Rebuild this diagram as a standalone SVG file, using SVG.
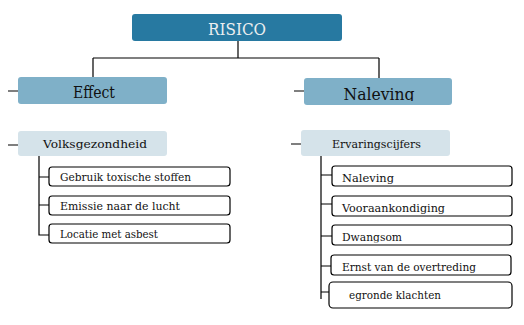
<svg xmlns="http://www.w3.org/2000/svg" width="524" height="325" viewBox="0 0 524 325">
<style>
.t{font-family:"DejaVu Serif","Liberation Serif",serif;fill:#111}
.leaf{fill:#fff;stroke:#000;stroke-width:1.2}
.l1{fill:#7fb0c8}
.l2{fill:#d5e3ea}
.c{fill:none;stroke:#000;stroke-width:1.2}
</style>
<defs>
<clipPath id="cNal"><rect x="304" y="78" width="148" height="23"/></clipPath>
<clipPath id="cN1"><rect x="332" y="166" width="180" height="18"/></clipPath>
<clipPath id="cN2"><rect x="332" y="196" width="180" height="18.5"/></clipPath>
<clipPath id="cN3"><rect x="332" y="225" width="180" height="17.5"/></clipPath>
</defs>
<rect width="524" height="325" fill="#fff"/>
<g id="connectors">
<path class="c" d="M238 41V58M93 58H379M93 58V77M379 58V78"/>
<path class="c" d="M8 91H18M294 91H304M8 145H18M291 144H301"/>
<path class="c" d="M39 156V235H49M39 177H49M39 205H49"/>
<path class="c" d="M321 156V299M321 175H332M321 204H332M321 236H332M321 266H331M321 292H329"/>
</g>
<g id="risico"><rect x="132" y="14" width="210" height="27" rx="3" fill="#2779a1"/><text class="t" x="237" y="35" font-size="16" text-anchor="middle" textLength="58" lengthAdjust="spacingAndGlyphs" style="fill:#eceff0">RISICO</text></g>
<g id="effect"><rect class="l1" x="18" y="77" width="149" height="27" rx="3"/><text class="t" x="94" y="98" font-size="16" text-anchor="middle" textLength="42" lengthAdjust="spacingAndGlyphs">Effect</text></g>
<g id="naleving"><rect class="l1" x="304" y="78" width="148" height="27" rx="3"/><text class="t" x="379" y="100" font-size="16" text-anchor="middle" textLength="71" lengthAdjust="spacingAndGlyphs" clip-path="url(#cNal)">Naleving</text></g>
<g id="volksgezondheid"><rect class="l2" x="18" y="131" width="149" height="25" rx="3"/><text class="t" x="43" y="148" font-size="11.5" textLength="104" lengthAdjust="spacingAndGlyphs">Volksgezondheid</text></g>
<g id="ervaringscijfers"><rect class="l2" x="301" y="130" width="149" height="26" rx="3"/><text class="t" x="332" y="148" font-size="11.5" textLength="89" lengthAdjust="spacingAndGlyphs">Ervaringscijfers</text></g>
<g id="gebruik"><rect class="leaf" x="49" y="167" width="181" height="19" rx="3"/><text class="t" x="60" y="181" font-size="11" textLength="131" lengthAdjust="spacingAndGlyphs">Gebruik toxische stoffen</text></g>
<g id="emissie"><rect class="leaf" x="49" y="196" width="181" height="19" rx="3"/><text class="t" x="60" y="210" font-size="11" textLength="120" lengthAdjust="spacingAndGlyphs">Emissie naar de lucht</text></g>
<g id="locatie"><rect class="leaf" x="49" y="224" width="181" height="19" rx="3"/><text class="t" x="60" y="238" font-size="11" textLength="98" lengthAdjust="spacingAndGlyphs">Locatie met asbest</text></g>
<g id="naleving2"><rect class="leaf" x="332" y="166" width="180" height="20" rx="3"/><text class="t" x="342" y="182" font-size="11.5" textLength="52" lengthAdjust="spacingAndGlyphs" clip-path="url(#cN1)">Naleving</text></g>
<g id="vooraankondiging"><rect class="leaf" x="332" y="196" width="180" height="20" rx="3"/><text class="t" x="342" y="212" font-size="11.5" textLength="103" lengthAdjust="spacingAndGlyphs" clip-path="url(#cN2)">Vooraankondiging</text></g>
<g id="dwangsom"><rect class="leaf" x="332" y="225" width="180" height="20" rx="3"/><text class="t" x="342" y="241" font-size="11.5" textLength="60" lengthAdjust="spacingAndGlyphs" clip-path="url(#cN3)">Dwangsom</text></g>
<g id="ernst"><rect class="leaf" x="331" y="255" width="180" height="20" rx="3"/><text class="t" x="342" y="271" font-size="11.5" textLength="134" lengthAdjust="spacingAndGlyphs">Ernst van de overtreding</text></g>
<g id="klachten"><rect class="leaf" x="329" y="282" width="183" height="26" rx="4"/><text class="t" x="349" y="299" font-size="11.5" textLength="92" lengthAdjust="spacingAndGlyphs">egronde klachten</text></g>
</svg>
